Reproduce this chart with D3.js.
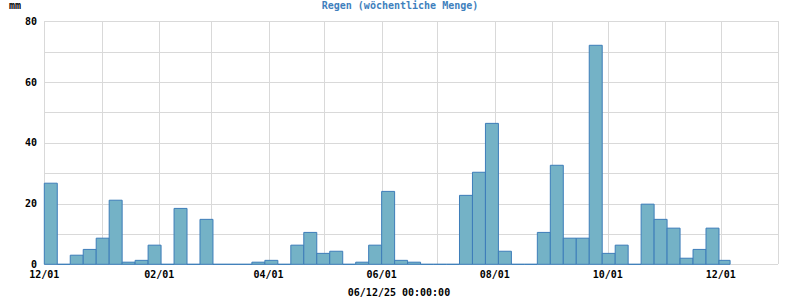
<!DOCTYPE html>
<html>
<head>
<meta charset="utf-8">
<script src="https://cdn.jsdelivr.net/npm/d3@7"></script>
<style>
  body { margin: 0; background: #fff; }
  text { font-family: "DejaVu Sans Mono", monospace; font-size: 10px; font-weight: bold; }
</style>
</head>
<body>
<div id="chart"></div>
<script>
// week start dates (one bar per week)
const weekStarts = [
  "2024-12-01","2024-12-08","2024-12-15","2024-12-22","2024-12-29",
  "2025-01-05","2025-01-12","2025-01-19","2025-01-26",
  "2025-02-02","2025-02-09","2025-02-16","2025-02-23",
  "2025-03-02","2025-03-09","2025-03-16","2025-03-23","2025-03-30",
  "2025-04-06","2025-04-13","2025-04-20","2025-04-27",
  "2025-05-04","2025-05-11","2025-05-18","2025-05-25",
  "2025-06-01","2025-06-08","2025-06-15","2025-06-22","2025-06-29",
  "2025-07-06","2025-07-13","2025-07-20","2025-07-27",
  "2025-08-03","2025-08-10","2025-08-17","2025-08-24","2025-08-31",
  "2025-09-07","2025-09-14","2025-09-21","2025-09-28",
  "2025-10-05","2025-10-12","2025-10-19","2025-10-26",
  "2025-11-02","2025-11-09","2025-11-16","2025-11-23","2025-11-30"
];
// weekly rain in mm
const rainMm = [
  26.7, 0, 3.0, 4.9, 8.6,
  21.1, 0.7, 1.3, 6.3,
  0, 18.4, 0, 14.8,
  0, 0, 0, 0.7, 1.3,
  0, 6.3, 10.5, 3.6,
  4.3, 0, 0.7, 6.3,
  24.0, 1.3, 0.7, 0, 0,
  0, 22.7, 30.3, 46.4,
  4.3, 0, 0, 10.5, 32.6,
  8.6, 8.6, 72.1, 3.6,
  6.3, 0, 19.8, 14.8,
  11.9, 2.0, 4.9, 11.9, 1.3
];
const yTicks = [0, 20, 40, 60, 80];
const yGrid = [0, 10, 20, 30, 40, 50, 60, 70, 80];
const xStart = "2024-12-01", xEnd = "2026-01-01", nowStamp = "2025-12-06";
const titleText = "Regen (wöchentliche Menge)";
const unitText = "mm";
const footerText = "06/12/25 00:00:00";

const width = 800, height = 300;
const margin = {top: 21.3, right: 21.7, bottom: 35.7, left: 44.3};

const parse = d3.timeParse("%Y-%m-%d");
const now = parse(nowStamp);
const data = weekStarts.map(function(d, i) {
  let s = parse(d);
  let e = d3.timeDay.offset(s, 7);
  if (e > now) e = now;
  return {start: s, end: e, value: rainMm[i]};
});

const svg = d3.select("#chart").append("svg")
  .attr("width", width)
  .attr("height", height);

const x = d3.scaleTime()
  .domain([parse(xStart), parse(xEnd)])
  .range([margin.left, width - margin.right]);
const y = d3.scaleLinear()
  .domain([0, 80])
  .range([height - margin.bottom, margin.top]);

const snap = function(v) { return Math.round(v) + 0.5; };

// grid lines
const grid = svg.append("g")
  .attr("stroke", "#d9d9d9")
  .attr("stroke-width", 1)
  .attr("shape-rendering", "crispEdges");

grid.selectAll(".hgrid")
  .data(yGrid)
  .enter()
  .append("line")
  .attr("x1", x.range()[0])
  .attr("x2", x.range()[1])
  .attr("y1", function(d) { return snap(y(d)); })
  .attr("y2", function(d) { return snap(y(d)); });

const months = d3.timeMonth.range(parse(xStart), d3.timeDay.offset(parse(xEnd), 1));
grid.selectAll(".vgrid")
  .data(months)
  .enter()
  .append("line")
  .attr("x1", function(d) { return snap(x(d)); })
  .attr("x2", function(d) { return snap(x(d)); })
  .attr("y1", y(80))
  .attr("y2", y(0));

// bars (paths so zero weeks still draw the stroke)
svg.append("g")
  .selectAll("path")
  .data(data)
  .enter()
  .append("path")
  .attr("d", function(d) {
    let x0 = x(d.start), x1 = x(d.end), y0 = y(0), y1 = y(d.value);
    return "M" + x0 + "," + y0 + "V" + y1 + "H" + x1 + "V" + y0 + "Z";
  })
  .attr("fill", "#74b2c6")
  .attr("stroke", "#3d7db9")
  .attr("stroke-width", 1);

// y labels
svg.append("g")
  .selectAll("text")
  .data(yTicks)
  .enter()
  .append("text")
  .attr("x", 37)
  .attr("y", function(d) { return y(d); })
  .attr("dy", "0.35em")
  .attr("text-anchor", "end")
  .attr("fill", "#000")
  .text(function(d) { return d; });

// x labels every second month
const fmt = d3.timeFormat("%m/%d");
const labelMonths = months.filter(function(d, i) { return i % 2 === 0; });
svg.append("g")
  .selectAll("text")
  .data(labelMonths)
  .enter()
  .append("text")
  .attr("x", function(d) { return x(d); })
  .attr("y", 278)
  .attr("text-anchor", "middle")
  .attr("fill", "#000")
  .text(function(d) { return fmt(d); });

// title, unit, footer
svg.append("text")
  .attr("x", 400)
  .attr("y", 9)
  .attr("text-anchor", "middle")
  .attr("fill", "#3f7fbd")
  .text(titleText);

svg.append("text")
  .attr("x", 9)
  .attr("y", 9)
  .attr("fill", "#000")
  .text(unitText);

svg.append("text")
  .attr("x", 399)
  .attr("y", 296)
  .attr("text-anchor", "middle")
  .attr("fill", "#000")
  .text(footerText);
</script>
</body>
</html>
